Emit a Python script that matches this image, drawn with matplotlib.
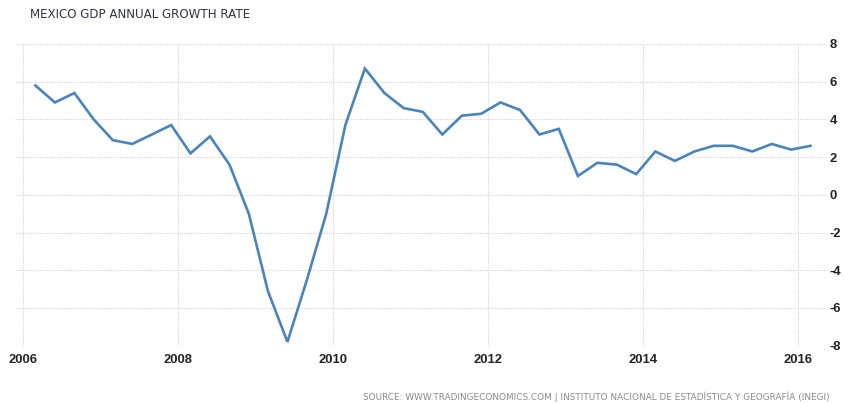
import pandas as pd
import matplotlib
matplotlib.use('Agg')
import matplotlib.pyplot as plt
import matplotlib.dates as mdates

plt.rcParams['axes.unicode_minus'] = False

# Quarterly GDP annual growth rate, Q1 2006 .. Q1 2016
growth = [5.8, 4.9, 5.4, 4.0,
          2.9, 2.7, 3.2, 3.7,
          2.2, 3.1, 1.6, -1.0,
          -5.1, -7.8, -4.5, -1.0,
          3.7, 6.7, 5.4, 4.6,
          4.4, 3.2, 4.2, 4.3,
          4.9, 4.5, 3.2, 3.5,
          1.0, 1.7, 1.6, 1.1,
          2.3, 1.8, 2.3, 2.6,
          2.6, 2.3, 2.7, 2.4,
          2.6]
dates = pd.date_range('2006-03-01', periods=len(growth), freq='3MS')
year_ticks = [2006, 2008, 2010, 2012, 2014, 2016]
y_ticks = [-8, -6, -4, -2, 0, 2, 4, 6, 8]

fig = plt.figure(figsize=(8.44, 4.03), dpi=100)
ax = fig.add_axes([15 / 844, 1 - 345.7 / 403, (827 - 15) / 844, (345.7 - 44) / 403])

ax.plot(dates, growth, color='#4a84b8', linewidth=1.9, solid_joinstyle='miter')

ax.set_xlim(pd.Timestamp('2005-11-25'), pd.Timestamp('2016-05-18'))
ax.set_ylim(-8, 8)
ax.set_xticks([pd.Timestamp(f'{y}-01-01') for y in year_ticks])
ax.xaxis.set_major_formatter(mdates.DateFormatter('%Y'))
ax.set_yticks(y_ticks)

ax.yaxis.tick_right()
ax.grid(True, color='#d6d6d6', linestyle=(0, (1, 1)), linewidth=0.8)
for s in ax.spines.values():
    s.set_visible(False)
ax.tick_params(axis='both', length=0, colors='#222222')
ax.tick_params(axis='x', pad=6)
ax.tick_params(axis='y', pad=2)
for lab in ax.get_xticklabels() + ax.get_yticklabels():
    lab.set_fontfamily('Liberation Sans')
    lab.set_fontweight('bold')
    lab.set_fontsize(9.4)

fig.text(30 / 844, 1 - 14 / 403, 'MEXICO GDP ANNUAL GROWTH RATE', fontsize=8.6,
         family='DejaVu Sans', color='#333344', va='center', ha='left')
fig.text(830 / 844, 1 - 397 / 403,
         'SOURCE: WWW.TRADINGECONOMICS.COM | INSTITUTO NACIONAL DE ESTADÍSTICA Y GEOGRAFÍA (INEGI)',
         fontsize=6.4, family='DejaVu Sans', color='#8a8a8a', va='center', ha='right')

plt.savefig('out.png', dpi=100)
